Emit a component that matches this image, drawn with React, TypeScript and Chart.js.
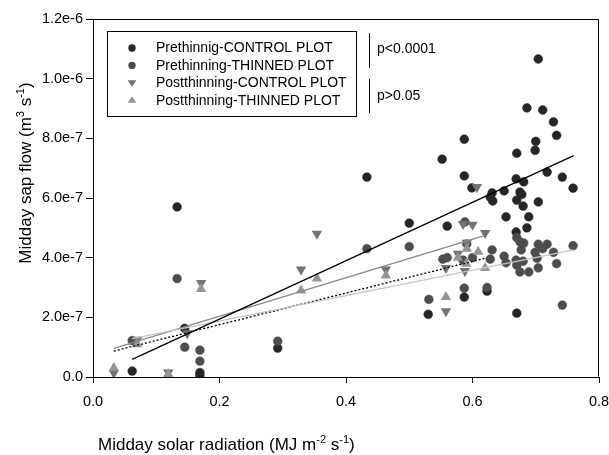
import React, { useEffect, useRef } from 'react';
import { Chart, registerables } from 'chart.js';

Chart.register(...registerables);

// ---------- data ----------
const xTicks = [0, 0.2, 0.4, 0.6, 0.8];
const yTicks = [0, 2e-7, 4e-7, 6e-7, 8e-7, 1.0e-6, 1.2e-6];

const seriesNames = [
  'Prethinnig-CONTROL PLOT',
  'Prethinning-THINNED PLOT',
  'Postthinning-CONTROL PLOT',
  'Postthinning-THINNED PLOT',
];

const preControlX = [0.062, 0.133, 0.145, 0.169, 0.169, 0.292, 0.433, 0.5, 0.53, 0.552, 0.56, 0.587, 0.587, 0.599, 0.587, 0.623, 0.628, 0.631, 0.632, 0.65, 0.653, 0.669, 0.67, 0.67, 0.669, 0.675, 0.678, 0.68, 0.681, 0.686, 0.686, 0.689, 0.699, 0.7, 0.704, 0.704, 0.711, 0.718, 0.728, 0.733, 0.742, 0.759, 0.67];
const preControlY = [0.2e-7, 5.7e-7, 1.63e-7, 0.15e-7, 0.05e-7, 0.97e-7, 6.7e-7, 5.16e-7, 2.1e-7, 7.3e-7, 5.06e-7, 7.97e-7, 6.74e-7, 6.34e-7, 2.68e-7, 2.88e-7, 6.03e-7, 6.17e-7, 5.9e-7, 6.24e-7, 5.37e-7, 6.64e-7, 7.5e-7, 5.93e-7, 4.86e-7, 6.2e-7, 6.12e-7, 5.73e-7, 6.54e-7, 9.02e-7, 5.0e-7, 5.37e-7, 7.6e-7, 7.9e-7, 10.66e-7, 5.87e-7, 8.95e-7, 6.87e-7, 8.55e-7, 8.1e-7, 6.7e-7, 6.33e-7, 2.14e-7];

const preThinnedX = [0.062, 0.133, 0.145, 0.169, 0.169, 0.292, 0.433, 0.5, 0.531, 0.553, 0.56, 0.585, 0.587, 0.588, 0.591, 0.6, 0.623, 0.628, 0.631, 0.65, 0.653, 0.669, 0.67, 0.67, 0.675, 0.675, 0.677, 0.68, 0.681, 0.689, 0.699, 0.702, 0.704, 0.704, 0.711, 0.718, 0.728, 0.733, 0.742, 0.759];
const preThinnedY = [1.22e-7, 3.3e-7, 1.0e-7, 0.9e-7, 0.53e-7, 1.2e-7, 4.3e-7, 4.37e-7, 2.6e-7, 3.95e-7, 4.0e-7, 3.92e-7, 2.98e-7, 5.2e-7, 4.46e-7, 4.0e-7, 3.0e-7, 3.95e-7, 4.26e-7, 4.05e-7, 3.83e-7, 3.92e-7, 4.67e-7, 3.75e-7, 4.53e-7, 3.52e-7, 4.26e-7, 3.88e-7, 4.49e-7, 3.52e-7, 4.18e-7, 3.98e-7, 4.45e-7, 3.66e-7, 4.3e-7, 4.45e-7, 4.18e-7, 3.8e-7, 2.41e-7, 4.4e-7];

const postControlX = [0.033, 0.07, 0.119, 0.149, 0.171, 0.329, 0.354, 0.463, 0.558, 0.558, 0.577, 0.585, 0.588, 0.591, 0.6, 0.607, 0.62];
const postControlY = [0.13e-7, 1.25e-7, 0.15e-7, 1.47e-7, 3.15e-7, 3.6e-7, 4.8e-7, 3.6e-7, 3.65e-7, 2.2e-7, 4.13e-7, 5.13e-7, 3.55e-7, 4.5e-7, 5.1e-7, 6.37e-7, 4.83e-7];

const postThinnedX = [0.033, 0.07, 0.119, 0.171, 0.329, 0.354, 0.463, 0.558, 0.577, 0.59, 0.591, 0.609, 0.62];
const postThinnedY = [0.3e-7, 1.1e-7, 0.1e-7, 2.95e-7, 2.9e-7, 3.3e-7, 3.4e-7, 2.68e-7, 4.0e-7, 3.8e-7, 4.3e-7, 4.2e-7, 3.65e-7];

// regression line end points
const preControlFitX = [0.062, 0.76];
const preControlFitY = [0.59e-7, 7.42e-7];
const preThinnedFitX = [0.062, 0.76];
const preThinnedFitY = [1.29e-7, 4.26e-7];
const postControlFitX = [0.033, 0.62];
const postControlFitY = [0.87e-7, 3.98e-7];
const postThinnedFitX = [0.033, 0.62];
const postThinnedFitY = [0.96e-7, 4.75e-7];

const pLabels = ['p<0.0001', 'p>0.05'];

const xTitle = ['Midday solar radiation (MJ m', '-2', ' s', '-1', ')'];
const yTitle = ['Midday sap flow (m', '3', ' s', '-1', ')'];

// ---------- helpers ----------
const FONT = '"Liberation Sans", Arial, sans-serif';
const pts = (xs: number[], ys: number[]) => xs.map((x, i) => ({ x, y: ys[i] }));

const colors = ['#262626', '#4d4d4d', '#737373', '#959595'];

function drawMarker(ctx: CanvasRenderingContext2D, kind: string, x: number, y: number, r: number, color: string) {
  ctx.save();
  ctx.fillStyle = color;
  ctx.beginPath();
  if (kind === 'circle') {
    ctx.arc(x, y, r, 0, Math.PI * 2);
  } else if (kind === 'down') {
    ctx.moveTo(x - r, y - r * 0.6);
    ctx.lineTo(x + r, y - r * 0.6);
    ctx.lineTo(x, y + r * 0.9);
    ctx.closePath();
  } else {
    ctx.moveTo(x - r, y + r * 0.6);
    ctx.lineTo(x + r, y + r * 0.6);
    ctx.lineTo(x, y - r * 0.9);
    ctx.closePath();
  }
  ctx.fill();
  ctx.restore();
}

function drawSupText(ctx: CanvasRenderingContext2D, parts: string[], x: number, y: number, size: number) {
  let cx = x;
  parts.forEach((p, i) => {
    const sup = i % 2 === 1;
    ctx.font = `${sup ? size * 0.65 : size}px ${FONT}`;
    ctx.fillText(p, cx, sup ? y - size * 0.42 : y);
    cx += ctx.measureText(p).width;
  });
}

function supWidth(ctx: CanvasRenderingContext2D, parts: string[], size: number) {
  let w = 0;
  parts.forEach((p, i) => {
    ctx.font = `${i % 2 === 1 ? size * 0.65 : size}px ${FONT}`;
    w += ctx.measureText(p).width;
  });
  return w;
}

const decorPlugin = {
  id: 'decor',
  afterDraw(chart: any) {
    const ctx: CanvasRenderingContext2D = chart.ctx;
    const a = chart.chartArea;
    ctx.save();
    // frame
    ctx.strokeStyle = '#000';
    ctx.lineWidth = 1;
    ctx.beginPath();
    ctx.moveTo(Math.round(a.left) + 0.5, Math.round(a.top) + 0.5);
    ctx.lineTo(Math.round(a.right) - 0.5, Math.round(a.top) + 0.5);
    ctx.lineTo(Math.round(a.right) - 0.5, Math.round(a.bottom) - 0.5);
    ctx.stroke();

    // legend box
    const bx = 107.5, by = 31.5, bw = 249, bh = 85;
    ctx.fillStyle = '#fff';
    ctx.fillRect(bx, by, bw, bh);
    ctx.strokeRect(bx, by, bw, bh);
    const kinds = ['circle', 'circle', 'down', 'up'];
    ctx.textBaseline = 'middle';
    ctx.textAlign = 'left';
    seriesNames.forEach((n, i) => {
      const yy = 48 + i * 17.4;
      drawMarker(ctx, kinds[i], 132, yy, kinds[i] === 'circle' ? 3.7 : 4.4, colors[i]);
      ctx.fillStyle = '#000';
      ctx.font = `14px ${FONT}`;
      ctx.fillText(n, 156, yy + 0.5);
    });

    // p-value brackets
    ctx.strokeStyle = '#000';
    ctx.beginPath();
    ctx.moveTo(369.5, 33);
    ctx.lineTo(369.5, 68);
    ctx.moveTo(369.5, 79);
    ctx.lineTo(369.5, 113);
    ctx.stroke();
    ctx.fillStyle = '#000';
    ctx.font = `14px ${FONT}`;
    ctx.fillText(pLabels[0], 377, 49);
    ctx.fillText(pLabels[1], 377, 96);

    // axis titles
    ctx.textBaseline = 'alphabetic';
    drawSupText(ctx, xTitle, 98, 450, 17);
    const w = supWidth(ctx, yTitle, 17);
    ctx.translate(31, 173);
    ctx.rotate(-Math.PI / 2);
    drawSupText(ctx, yTitle, -w / 2, 0, 17);
    ctx.restore();
  },
};

export default function App() {
  const ref = useRef<HTMLCanvasElement | null>(null);
  useEffect(() => {
    if (!ref.current) return;
    const lineDs = (label: string, xs: number[], ys: number[], color: string, dash: number[] = []) => ({
      type: 'line' as const,
      label,
      data: pts(xs, ys),
      borderColor: color,
      borderWidth: 1.3,
      borderDash: dash,
      pointRadius: 0,
      showLine: true,
      fill: false,
      order: 0,
    });
    const chart = new Chart(ref.current, {
      type: 'scatter',
      data: {
        datasets: [
          lineDs('fit ' + seriesNames[0], preControlFitX, preControlFitY, '#000'),
          lineDs('fit ' + seriesNames[1], preThinnedFitX, preThinnedFitY, '#c4c4c4'),
          lineDs('fit ' + seriesNames[2], postControlFitX, postControlFitY, '#000', [2, 2]),
          lineDs('fit ' + seriesNames[3], postThinnedFitX, postThinnedFitY, '#888'),
          {
            label: seriesNames[0], data: pts(preControlX, preControlY),
            pointStyle: 'circle', pointRadius: 4.4, backgroundColor: colors[0], borderColor: colors[0], borderWidth: 0.5, order: 4,
          },
          {
            label: seriesNames[1], data: pts(preThinnedX, preThinnedY),
            pointStyle: 'circle', pointRadius: 4.4, backgroundColor: colors[1], borderColor: colors[1], borderWidth: 0.5, order: 3,
          },
          {
            label: seriesNames[2], data: pts(postControlX, postControlY),
            pointStyle: 'triangle', rotation: 180, pointRadius: 6, backgroundColor: colors[2], borderColor: colors[2], borderWidth: 0, order: 2,
          },
          {
            label: seriesNames[3], data: pts(postThinnedX, postThinnedY),
            pointStyle: 'triangle', pointRadius: 6, backgroundColor: colors[3], borderColor: colors[3], borderWidth: 0, order: 1,
          },
        ] as any,
      },
      options: {
        animation: false,
        responsive: false,
        layout: { padding: { left: 0, right: 10, top: 19, bottom: 0 } },
        plugins: { legend: { display: false }, tooltip: { enabled: false } },
        scales: {
          x: {
            type: 'linear', min: 0, max: 0.8,
            afterBuildTicks: (s: any) => { s.ticks = xTicks.map((v) => ({ value: v })); },
            afterFit: (s: any) => { s.height = 78; s.paddingRight = 0; s.paddingLeft = 0; },
            grid: { drawOnChartArea: false, drawTicks: true, tickLength: 6, color: '#000' },
            border: { display: true, color: '#000', width: 1 },
            ticks: {
              padding: 10, color: '#000', font: { family: FONT, size: 14.5 },
              callback: (v: any) => Number(v).toFixed(1),
            },
          },
          y: {
            type: 'linear', min: 0, max: 1.2e-6,
            afterBuildTicks: (s: any) => { s.ticks = yTicks.map((v) => ({ value: v })); },
            afterFit: (s: any) => { s.width = 93; s.paddingTop = 0; s.paddingBottom = 0; },
            grid: { drawOnChartArea: false, drawTicks: true, tickLength: 7, color: '#000' },
            border: { display: true, color: '#000', width: 1 },
            ticks: {
              padding: 3, color: '#000', font: { family: FONT, size: 14.5 },
              callback: (v: any) => (Number(v) === 0 ? '0.0' : Number(v).toExponential(1)),
            },
          },
        },
      } as any,
      plugins: [decorPlugin],
    });
    return () => chart.destroy();
  }, []);
  return (
    <div style={{ position: 'absolute', left: 0, top: 0, width: 609, height: 455, background: '#fff' }}>
      <canvas ref={ref} width={609} height={455} style={{ width: 609, height: 455, display: 'block' }} />
    </div>
  );
}
